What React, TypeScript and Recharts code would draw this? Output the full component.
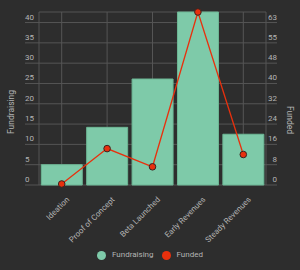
import React from 'react';
import { ComposedChart, Bar, Line, XAxis, YAxis, CartesianGrid } from 'recharts';

const stages = ['Ideation', 'Proof of Concept', 'Beta Launched', 'Early Revenues', 'Steady Revenues'];
const fundraising = [5, 14.2, 26.1, 42.6, 12.5];
const funded = [0.4, 14.2, 7.1, 67.5, 11.9];
const fundraisingTicks = [0, 5, 10, 15, 20, 25, 30, 35, 40];

const FONT = 'Roboto, sans-serif';
const BG = '#2d2d2d';
const GREEN = '#7ecaa9';
const RED = '#e8300d';
const GRID = '#555555';
const TEXT = '#b4b4b4';

const fundraisingMax = Math.max(...fundraising);
const fundedMax = Math.max(...funded);
const ratio = fundedMax / fundraisingMax;
const fundedTicks = fundraisingTicks.map((t) => t * ratio);

const data = stages.map((stage, i) => ({
  stage,
  fundraising: fundraising[i],
  funded: funded[i],
}));

// tick label sits above its line, line runs out past the plot edge
function LeftTick({ y, payload }: any) {
  return (
    <g>
      <line x1={25} x2={39} y1={y} y2={y} stroke={GRID} strokeWidth={1} />
      <text x={25} y={y - 3} fill={TEXT} fontSize={8} fontFamily={FONT} textAnchor="start">
        {payload.value}
      </text>
    </g>
  );
}

function RightTick({ y, payload }: any) {
  return (
    <g>
      <line x1={266} x2={277} y1={y} y2={y} stroke={GRID} strokeWidth={1} />
      <text x={277} y={y - 3} fill={TEXT} fontSize={8} fontFamily={FONT} textAnchor="end">
        {Math.round(payload.value)}
      </text>
    </g>
  );
}

function StageTick({ x, y, payload }: any) {
  return (
    <g transform={`translate(${x + 6},${y + 5})`}>
      <text x={0} y={0} dy={3} fill={TEXT} fontSize={8} fontFamily={FONT} textAnchor="end" transform="rotate(-45)">
        {payload.value}
      </text>
    </g>
  );
}

function Dot({ cx, cy }: any) {
  return <circle cx={cx} cy={cy} r={3.3} fill={RED} stroke="#3a2320" strokeWidth={1} />;
}

export default function App() {
  return (
    <div style={{ position: 'absolute', left: 0, top: 0, width: 300, height: 270, background: BG, fontFamily: FONT }}>
      <ComposedChart
        width={300}
        height={270}
        data={data}
        margin={{ top: 12, right: 0, bottom: 0, left: 0 }}
        barCategoryGap="5%"
      >
        <CartesianGrid yAxisId="left" stroke={GRID} strokeWidth={1} />
        <XAxis
          dataKey="stage"
          height={85}
          interval={0}
          axisLine={false}
          tickLine={false}
          tick={<StageTick />}
        />
        <YAxis
          yAxisId="left"
          width={39}
          domain={[0, fundraisingMax]}
          ticks={fundraisingTicks}
          interval={0}
          axisLine={false}
          tickLine={false}
          tick={<LeftTick />}
          label={(props: any) => (
            <text x={14} y={112} fill={TEXT} fontSize={8.5} fontFamily={FONT} textAnchor="middle" transform="rotate(-90 14 112)">
              Fundraising
            </text>
          )}
        />
        <YAxis
          yAxisId="right"
          orientation="right"
          width={34}
          domain={[0, fundedMax]}
          ticks={fundedTicks}
          interval={0}
          axisLine={false}
          tickLine={false}
          tick={<RightTick />}
          label={(props: any) => (
            <text x={287} y={120} fill={TEXT} fontSize={8.5} fontFamily={FONT} textAnchor="middle" transform="rotate(90 287 120)">
              Funded
            </text>
          )}
        />
        <Bar yAxisId="left" dataKey="fundraising" fill={GREEN} stroke="#6db795" strokeWidth={1} isAnimationActive={false} />
        <Line
          yAxisId="right"
          dataKey="funded"
          type="linear"
          stroke={RED}
          strokeWidth={1.3}
          dot={<Dot />}
          activeDot={false}
          isAnimationActive={false}
        />
      </ComposedChart>
      <div
        style={{
          position: 'absolute',
          left: 97,
          top: 249,
          display: 'flex',
          alignItems: 'center',
          fontSize: 8,
          color: TEXT,
          lineHeight: '12px',
        }}
      >
        <span style={{ width: 9, height: 9, borderRadius: '50%', background: GREEN, display: 'inline-block' }} />
        <span style={{ marginLeft: 6 }}>Fundraising</span>
        <span style={{ width: 9, height: 9, borderRadius: '50%', background: RED, display: 'inline-block', marginLeft: 8 }} />
        <span style={{ marginLeft: 6 }}>Funded</span>
      </div>
    </div>
  );
}
